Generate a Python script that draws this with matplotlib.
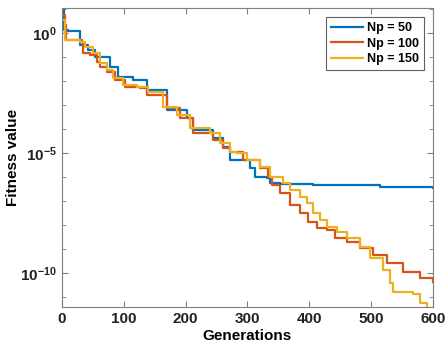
import matplotlib
matplotlib.use('Agg')
import matplotlib.pyplot as plt
import numpy as np
from matplotlib.ticker import LogLocator, NullFormatter, FixedLocator, FixedFormatter

plt.rcParams['font.family'] = ['Liberation Sans', 'DejaVu Sans']
plt.rcParams['font.weight'] = 'bold'
plt.rcParams['mathtext.fontset'] = 'custom'
plt.rcParams['mathtext.rm'] = 'Liberation Sans:bold'
plt.rcParams['mathtext.bf'] = 'Liberation Sans:bold'
plt.rcParams['mathtext.it'] = 'Liberation Sans:bold'

# generations and log10(fitness)
gen_50 = [0, 3, 10, 26, 29, 42, 53, 78, 91, 115, 137, 170, 202, 212, 244, 260,
          272, 304, 312, 331, 336, 353, 406, 514, 600]
log_50 = [1.04, 0.12, 0.08, 0.08, -0.5, -0.7, -1.0, -1.42, -1.83, -1.96, -2.38,
          -3.2, -3.54, -4.04, -4.38, -4.75, -5.29, -5.63, -6.0, -6.04, -6.25,
          -6.29, -6.33, -6.42, -6.46]

gen_100 = [0, 5, 6, 32, 34, 45, 57, 61, 73, 86, 102, 126, 137, 170, 191, 212,
           244, 260, 272, 293, 320, 333, 340, 353, 369, 385, 398, 412, 429, 441,
           461, 482, 503, 526, 551, 579, 600]
log_100 = [0.75, 0.33, -0.29, -0.37, -0.83, -0.92, -1.21, -1.42, -1.63, -1.96,
           -2.25, -2.29, -2.58, -3.13, -3.54, -4.17, -4.46, -4.79, -4.96, -5.29,
           -5.63, -6.0, -6.33, -6.67, -7.17, -7.5, -7.88, -8.13, -8.21, -8.54,
           -8.71, -8.96, -9.25, -9.58, -9.96, -10.21, -10.37]

gen_150 = [0, 5, 29, 37, 50, 61, 73, 82, 99, 121, 139, 163, 186, 207, 239, 255,
           272, 283, 299, 320, 336, 357, 369, 385, 396, 406, 417, 429, 445, 461,
           482, 498, 519, 530, 535, 568, 579, 590, 600]
log_150 = [0.54, -0.29, -0.37, -0.58, -0.83, -1.25, -1.54, -1.87, -2.17, -2.25,
           -2.46, -3.08, -3.42, -3.96, -4.17, -4.58, -4.96, -5.0, -5.29, -5.58,
           -6.0, -6.25, -6.54, -6.83, -7.08, -7.5, -7.79, -8.08, -8.29, -8.54,
           -8.92, -9.37, -9.87, -10.42, -10.79, -10.87, -11.25, -11.46, -11.55]

labels = ['Np = 50', 'Np = 100', 'Np = 150']
colors = ['#0072BD', '#D95319', '#EDB120']

fig = plt.figure(figsize=(4.45, 3.54), dpi=100)
ax = fig.add_axes([0.139, 0.133, 0.834, 0.844])

series = [(gen_50, log_50), (gen_100, log_100), (gen_150, log_150)]
for (g, l), lab, c in zip(series, labels, colors):
    ax.plot(g, 10.0 ** np.array(l), color=c, lw=1.6, label=lab,
            drawstyle='steps-post')

ax.set_yscale('log')
ax.set_xlim(0, 600)
ax.set_ylim(10 ** -11.4, 10 ** 1.04)
ax.xaxis.set_major_locator(FixedLocator([0, 100, 200, 300, 400, 500, 600]))
ax.yaxis.set_major_locator(FixedLocator([1e-10, 1e-5, 1e0]))
ax.yaxis.set_major_formatter(FixedFormatter([r'$\mathbf{10^{-10}}$',
                                             r'$\mathbf{10^{-5}}$',
                                             r'$\mathbf{10^{0}}$']))
ax.yaxis.set_minor_locator(LogLocator(base=10, subs=[1.0], numticks=30))
ax.yaxis.set_minor_formatter(NullFormatter())

for s in ax.spines.values():
    s.set_color('#808080')
    s.set_linewidth(0.8)
ax.tick_params(which='both', direction='in', top=True, right=True,
               color='#808080', labelsize=11, labelcolor='#222222')
ax.tick_params(which='major', length=4)
ax.tick_params(which='minor', length=3)

ax.set_xlabel('Generations', fontsize=11, fontweight='bold', labelpad=2)
ax.set_ylabel('Fitness value', fontsize=11, fontweight='bold', labelpad=0)

leg = ax.legend(loc='upper right', fontsize=9, handlelength=2.6,
                fancybox=False, framealpha=1, borderaxespad=0.7,
                labelspacing=0.3, handletextpad=0.3)
leg.get_frame().set_edgecolor('#606060')
leg.get_frame().set_linewidth(0.8)
for t in leg.get_texts():
    t.set_fontweight('bold')

fig.savefig('out.png', dpi=100)
